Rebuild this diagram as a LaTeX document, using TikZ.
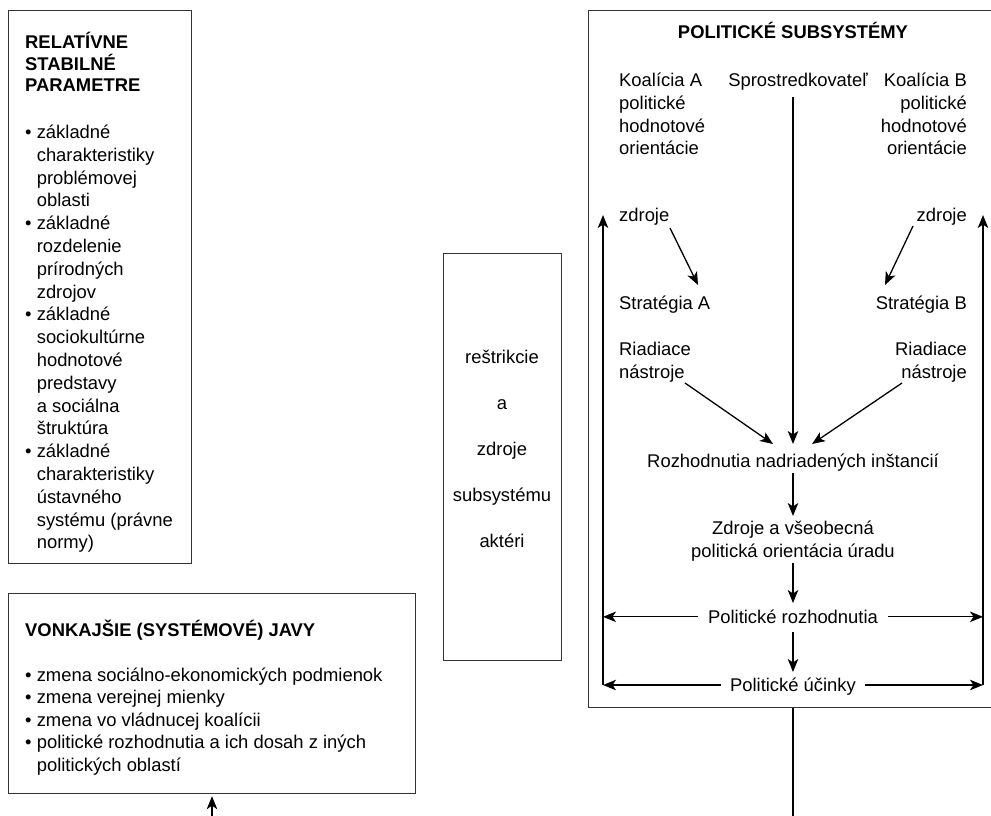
\documentclass[tikz,border=0pt]{standalone}
\usepackage{fontspec}
\setmainfont{Liberation Sans}
\usetikzlibrary{arrows.meta}
\newcommand\bul{\makebox[11.6pt][l]{•}}
\newcommand\ind{\hspace*{11.6pt}}
\begin{document}
\begin{tikzpicture}[x=1pt,y=-1pt,
  every node/.style={font=\fontsize{18.4}{22.8}\selectfont, inner sep=0pt},
  box/.style={draw=black!80, line width=1.2pt},
  ln/.style={line width=1.3pt},
  arr/.style={line width=1.3pt, -{Stealth[length=13pt,width=10.5pt,inset=3.5pt]}}]
\useasboundingbox (0,0) rectangle (991,815);

% boxes
\node[box, anchor=north west, minimum width=183pt, minimum height=553pt] (stab) at (8,10) {};
\node[box, anchor=north west, minimum width=407pt, minimum height=200pt] (vonk) at (8,593) {};
\node[box, anchor=north west, minimum width=118pt, minimum height=407pt] (restr) at (443,253) {};
\node[box, anchor=north west, minimum width=420pt, minimum height=697pt] (polsub) at (588,10) {};

% left top box
\node[anchor=base west] (stabT) at (25,48.5) {\parbox[t]{170pt}{\raggedright\baselineskip=21.5pt\bfseries RELATÍVNE\\STABILNÉ\\PARAMETRE}};
\node[anchor=base west] (stabL) at (25,138.5) {\parbox[t]{170pt}{\raggedright\baselineskip=22.8pt
\bul základné\\\ind charakteristiky\\\ind problémovej\\\ind oblasti\\
\bul základné\\\ind rozdelenie\\\ind prírodných\\\ind zdrojov\\
\bul základné\\\ind sociokultúrne\\\ind hodnotové\\\ind predstavy\\\ind a sociálna\\\ind štruktúra\\
\bul základné\\\ind charakteristiky\\\ind ústavného\\\ind systému (právne\\\ind normy)}};

% left bottom box
\node[anchor=base west] (vonkT) at (25,636) {\bfseries VONKAJŠIE (SYSTÉMOVÉ) JAVY};
\node[anchor=base west] (vonkL) at (25,681) {\parbox[t]{385pt}{\raggedright\baselineskip=22.5pt
\bul zmena sociálno-ekonomických podmienok\\
\bul zmena verejnej mienky\\
\bul zmena vo vládnucej koalícii\\
\bul politické rozhodnutia a ich dosah z iných\\\ind politických oblastí}};

% middle box
\node[anchor=base] (restrT) at (502,363) {\parbox[t]{115pt}{\centering\baselineskip=46pt reštrikcie\\a\\zdroje\\subsystému\\aktéri}};

% right box texts
\node[anchor=base] (polT) at (793,38.5) {\bfseries POLITICKÉ SUBSYSTÉMY};
\node[anchor=base west] (koalA) at (619,86.5) {\parbox[t]{120pt}{\raggedright Koalícia A\\politické\\hodnotové\\orientácie}};
\node[anchor=base] (sprost) at (798,86.5) {Sprostredkovateľ};
\node[anchor=base east] (koalB) at (967,86.5) {\parbox[t]{120pt}{\raggedleft Koalícia B\\politické\\hodnotové\\orientácie}};
\node[anchor=base west] (zdrA) at (619,221) {zdroje};
\node[anchor=base east] (zdrB) at (967,221) {zdroje};
\node[anchor=base west] (strA) at (619,309.5) {Stratégia A};
\node[anchor=base east] (strB) at (967,309.5) {Stratégia B};
\node[anchor=base west] (riadA) at (619,355.5) {\parbox[t]{120pt}{\raggedright Riadiace\\nástroje}};
\node[anchor=base east] (riadB) at (967,355.5) {\parbox[t]{120pt}{\raggedleft Riadiace\\nástroje}};
\node[anchor=base] (rozh) at (793,467.5) {Rozhodnutia nadriadených inštancií};
\node[anchor=base] (zdroj) at (793,534.5) {\parbox[t]{260pt}{\centering Zdroje a všeobecná\\politická orientácia úradu}};
\node[anchor=base] (prozh) at (793,623.5) {Politické rozhodnutia};
\node[anchor=base] (pucin) at (793,691.5) {Politické účinky};

% connector end points
\coordinate (sprB) at (793,97);
\coordinate (rozhT) at (793,444);
\coordinate (rozhB) at (793,473);
\coordinate (zdrT) at (793,516);
\coordinate (zdrBt) at (793,563);
\coordinate (prT) at (793,603);
\coordinate (prB) at (793,632);
\coordinate (puT) at (793,672);
\coordinate (LL) at (603,685);
\coordinate (LT) at (603,215);
\coordinate (RL) at (983,685);
\coordinate (RT) at (983,215);
\coordinate (zAs) at (670,228);
\coordinate (zAe) at (698,285);
\coordinate (zBs) at (913,226);
\coordinate (zBe) at (885,285);
\coordinate (rAs) at (685,383);
\coordinate (rAe) at (773,444);
\coordinate (rBs) at (902,383);
\coordinate (rBe) at (812,444);
\coordinate (vonkIn) at (212,830);
\coordinate (outB) at (793,830);

% connectors
\draw[arr] (sprB) -- (rozhT);
\draw[arr] (rozhB) -- (zdrT);
\draw[arr] (zdrBt) -- (prT);
\draw[arr] (prB) -- (puT);
\draw[arr] (zAs) -- (zAe);
\draw[arr] (zBs) -- (zBe);
\draw[arr] (rAs) -- (rAe);
\draw[arr] (rBs) -- (rBe);
\draw[arr] ([xshift=-10pt]prozh.west) -- (prozh.west -| LL);
\draw[arr] ([xshift=10pt]prozh.east) -- (prozh.east -| RL);
\draw[arr] ([xshift=-9pt]pucin.west |- LL) -- (LL);
\draw[arr] ([xshift=9pt]pucin.east |- RL) -- (RL);
\draw[arr] (LL) -- (LT);
\draw[arr] (RL) -- (RT);
\draw[ln] (polsub.south -| outB) -- (outB);
\draw[arr] (vonkIn) -- ([yshift=-2pt]vonk.south -| vonkIn);
\end{tikzpicture}
\end{document}
